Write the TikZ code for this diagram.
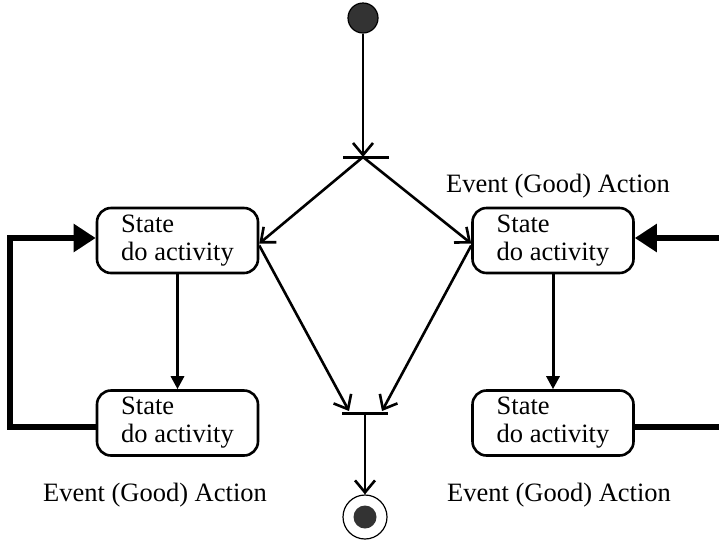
\documentclass[tikz,border=0pt]{standalone}
\usepackage{fontspec}
\setmainfont{Liberation Serif}
\usetikzlibrary{arrows.meta}
\begin{document}
\begin{tikzpicture}[x=1pt,y=1pt,
  every node/.style={font=\fontsize{26.5}{28}\selectfont},
  statebox/.style={draw, line width=2.6pt, rounded corners=14pt, minimum width=161pt,
    minimum height=65pt, align=left, inner sep=0pt},
  flow/.style={line width=2.6pt, -{Straight Barb[length=12pt,width=20pt,line width=2.6pt]}},
  down/.style={line width=3pt, -{Triangle[length=13pt,width=13pt]}},
  heavy/.style={line width=6pt, -{Triangle[length=22pt,width=27pt]}},
  heavyline/.style={line width=6pt},
  bar/.style={line width=3pt},
  lbl/.style={inner sep=0pt, anchor=base}]
\useasboundingbox (0,0) rectangle (719,-539);

% initial and final pseudo-states
\node (init) [circle, fill=black!80, draw=black, line width=1.2pt, minimum size=30pt, inner sep=0pt] at (363,-18) {};
\node (final) [circle, draw, line width=1.2pt, minimum size=44pt, inner sep=0pt] at (365,-517) {};
\node (finaldot) [circle, fill=black!80, minimum size=23pt, inner sep=0pt] at (365,-517) {};

% fork and join bars
\coordinate (forkL) at (343,-157);
\coordinate (forkR) at (389,-157);
\coordinate (fork) at (363,-157);
\coordinate (joinL) at (342,-413);
\coordinate (joinR) at (388,-413);
\coordinate (join) at (365,-413);
\coordinate (joinInL) at (349,-411);
\coordinate (joinInR) at (382,-411);
\draw[bar] (forkL) -- (forkR);
\draw[bar] (joinL) -- (joinR);

% states
\node (s1) [statebox] at (177.5,-240.5) {State\\do activity};
\node (s2) [statebox] at (553,-240.5) {State\\do activity};
\node (s3) [statebox] at (177.5,-423) {State\\do activity};
\node (s4) [statebox] at (553,-423) {State\\do activity};

% labels
\node (l1) [lbl] at (558,-192) {Event (Good) Action};
\node (l2) [lbl] at (155,-501) {Event (Good) Action};
\node (l3) [lbl] at (559,-501) {Event (Good) Action};

% control flow
\draw[flow] (init) -- (fork);
\coordinate (s1e) at ([yshift=-3pt]s1.east);
\coordinate (s2w) at ([yshift=-3pt]s2.west);
\draw[flow] (fork) -- (s1e);
\draw[flow] (fork) -- (s2w);
\draw[flow] ([yshift=-5pt]s1.east) -- (joinInL);
\draw[flow] ([yshift=-5pt]s2.west) -- (joinInR);
\draw[flow] (join) -- (final);

\draw[down] (s1.south) -- (s3.north);
\draw[down] (s2.south) -- (s4.north);

% loops back to the upper states
\coordinate (loopA) at (10,-427);
\coordinate (loopB) at (10,-238);
\coordinate (rin) at (719,-238);
\coordinate (rout) at (719,-427);
\draw[heavy] ([yshift=-4pt]s3.west) -- (loopA) -- (loopB) -- ([yshift=2.5pt]s1.west);
\draw[heavy] (rin) -- ([yshift=2.5pt]s2.east);
\draw[heavyline] ([yshift=-4pt]s4.east) -- (rout);
\end{tikzpicture}
\end{document}
